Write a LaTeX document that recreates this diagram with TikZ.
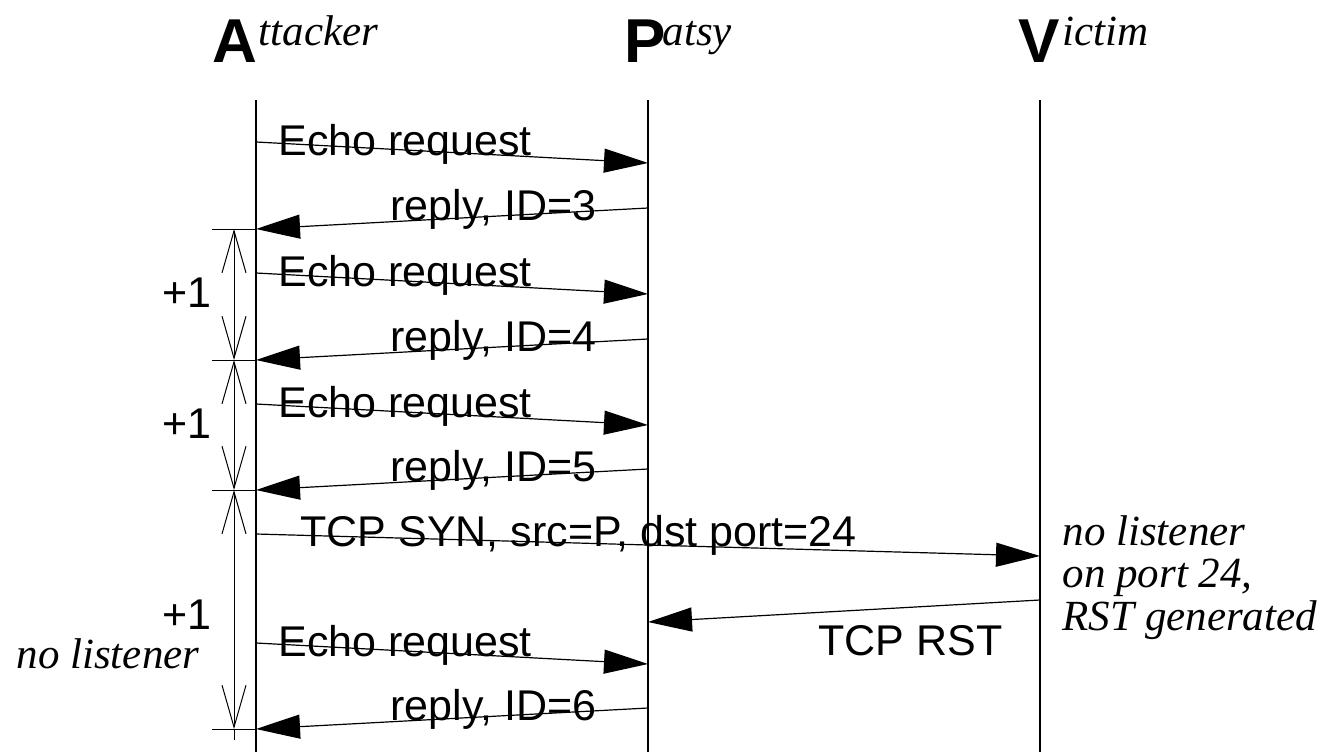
\documentclass[tikz,border=0pt]{standalone}
\usepackage{fontspec}
\setmainfont{Liberation Serif}
\setsansfont{Liberation Sans}
\usetikzlibrary{arrows.meta}
\begin{document}
\begin{tikzpicture}[x=1pt,y=-1pt,
  line width=1.2pt,
  msg/.style={-{Triangle[length=44pt,width=24pt]}},
  lbl/.style={inner sep=0pt, font=\sffamily\fontsize{43}{50}\selectfont},
  note/.style={inner sep=0pt, font=\itshape\fontsize{43}{50}\selectfont},
  big/.style={inner sep=0pt, font=\sffamily\bfseries\fontsize{62}{64}\selectfont},
  hdr/.style={inner sep=0pt, font=\itshape\fontsize{43}{44}\selectfont},
  dimline/.style={{Straight Barb[length=42pt,width=24pt]}-{Straight Barb[length=42pt,width=24pt]}, line width=1pt},
  tick/.style={line width=1pt}
]
\useasboundingbox (0,0) rectangle (1325,752);

% headers
\node[big, anchor=base west] (hA) at (212,63) {A};
\node[hdr, anchor=base west] (hA2) at (258,46) {ttacker};
\node[big, anchor=base west] (hP) at (624,63) {P};
\node[hdr, anchor=base west] (hP2) at (662,46) {atsy};
\node[big, anchor=base west] (hV) at (1018,63) {V};
\node[hdr, anchor=base west] (hV2) at (1062,46) {ictim};

% lifelines
\coordinate (At) at (256,100); \coordinate (Ab) at (256,752);
\coordinate (Pt) at (648,100); \coordinate (Pb) at (648,752);
\coordinate (Vt) at (1040,100); \coordinate (Vb) at (1040,752);
\draw (At) -- (Ab);
\draw (Pt) -- (Pb);
\draw (Vt) -- (Vb);

% message end points
\coordinate (e1s) at (256,142); \coordinate (e1e) at (648,163);
\coordinate (r1s) at (648,208); \coordinate (r1e) at (256,229);
\coordinate (e2s) at (256,273); \coordinate (e2e) at (648,294);
\coordinate (r2s) at (648,339); \coordinate (r2e) at (256,360);
\coordinate (e3s) at (256,404); \coordinate (e3e) at (648,425);
\coordinate (r3s) at (648,469); \coordinate (r3e) at (256,490);
\coordinate (ss) at (256,534); \coordinate (se) at (1040,556);
\coordinate (ts) at (1040,600); \coordinate (te) at (648,622);
\coordinate (e4s) at (256,643); \coordinate (e4e) at (648,664);
\coordinate (r4s) at (648,708); \coordinate (r4e) at (256,729);

\draw[msg] (e1s) -- (e1e);
\draw[msg] (r1s) -- (r1e);
\draw[msg] (e2s) -- (e2e);
\draw[msg] (r2s) -- (r2e);
\draw[msg] (e3s) -- (e3e);
\draw[msg] (r3s) -- (r3e);
\draw[msg] (ss) -- (se);
\draw[msg] (ts) -- (te);
\draw[msg] (e4s) -- (e4e);
\draw[msg] (r4s) -- (r4e);

% message labels
\node[lbl, anchor=base west] (le1) at (278,155) {Echo request};
\node[lbl, anchor=base east] (lr1) at (597,220) {reply, ID=3};
\node[lbl, anchor=base west] (le2) at (278,286) {Echo request};
\node[lbl, anchor=base east] (lr2) at (597,351) {reply, ID=4};
\node[lbl, anchor=base west] (le3) at (278,417) {Echo request};
\node[lbl, anchor=base east] (lr3) at (597,481) {reply, ID=5};
\node[lbl, anchor=base west] (lsyn) at (300,546) {TCP SYN, src=P, dst port=24};
\node[lbl, anchor=base east] (lrst) at (1003,655) {TCP RST};
\node[lbl, anchor=base west] (le4) at (278,656) {Echo request};
\node[lbl, anchor=base east] (lr4) at (597,720) {reply, ID=6};

% victim note
\node[note, anchor=base west] (n1) at (1062,545) {no listener};
\node[note, anchor=base west] (n2) at (1062,587) {on port 24,};
\node[note, anchor=base west] (n3) at (1062,630) {RST generated};

% dimension marks
\coordinate (k1) at (212,229); \coordinate (m1) at (234,229);
\coordinate (k2) at (212,360); \coordinate (m2) at (234,360);
\coordinate (k3) at (212,490); \coordinate (m3) at (234,490);
\coordinate (k4) at (212,729); \coordinate (m4) at (234,729);
\coordinate (m5) at (234,740);
\draw[tick] (k1) -- (r1e);
\draw[tick] (k2) -- (r2e);
\draw[tick] (k3) -- (r3e);
\draw[tick] (k4) -- (r4e);
\draw[dimline] (m1) -- (m2);
\draw[dimline] (m2) -- (m3);
\draw[dimline] (m3) -- (m4);
\draw[tick] (m4) -- (m5);

\node[lbl, anchor=base east] (p1) at (212,307) {+1};
\node[lbl, anchor=base east] (p2) at (212,438) {+1};
\node[lbl, anchor=base east] (p3) at (212,629) {+1};
\node[note, anchor=base west] (nl) at (16,668) {no listener};
\end{tikzpicture}
\end{document}
